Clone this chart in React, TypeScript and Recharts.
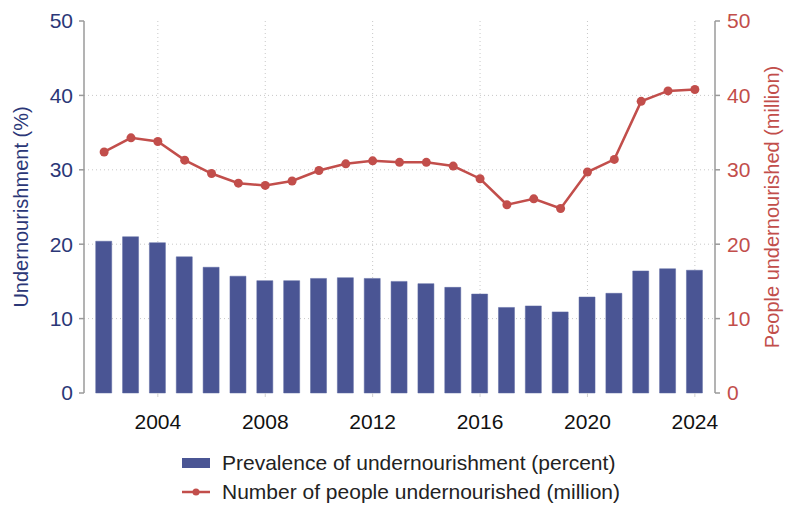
import { ComposedChart, Bar, Line, XAxis, YAxis, CartesianGrid } from 'recharts';

const years = [
  2002, 2003, 2004, 2005, 2006, 2007, 2008, 2009, 2010, 2011, 2012, 2013,
  2014, 2015, 2016, 2017, 2018, 2019, 2020, 2021, 2022, 2023, 2024,
];
const prevalence = [
  20.4, 21.0, 20.2, 18.3, 16.9, 15.7, 15.1, 15.1, 15.4, 15.5, 15.4, 15.0,
  14.7, 14.2, 13.3, 11.5, 11.7, 10.9, 12.9, 13.4, 16.4, 16.7, 16.5,
];
const undernourished = [
  32.4, 34.3, 33.8, 31.3, 29.5, 28.2, 27.9, 28.5, 29.9, 30.8, 31.2, 31.0,
  31.0, 30.5, 28.8, 25.3, 26.1, 24.8, 29.7, 31.4, 39.2, 40.6, 40.8,
];
const yearTicks = [2004, 2008, 2012, 2016, 2020, 2024];
const valueTicks = [0, 10, 20, 30, 40, 50];

const BLUE = '#4a5594';
const NAVY = '#2b3777';
const RED = '#c24e4b';
const FONT = 'Liberation Sans, Arial, sans-serif';

const data = years.map((year, i) => ({
  year,
  prevalence: prevalence[i],
  people: undernourished[i],
}));

export default function App() {
  return (
    <div style={{ position: 'absolute', left: 0, top: 0, width: 785, height: 514, background: '#fff', fontFamily: FONT }}>
      <ComposedChart
        width={785}
        height={514}
        data={data}
        margin={{ top: 21, right: 0, bottom: 81, left: 0 }}
      >
        <CartesianGrid
          stroke="#c8c8c8"
          strokeDasharray="1 3"
          horizontalValues={[10, 20, 30, 40]}
          verticalValues={yearTicks}
          yAxisId="left"
        />
        <XAxis
          dataKey="year"
          type="number"
          domain={[2001.25, 2024.75]}
          ticks={yearTicks}
          axisLine={false}
          tickLine={{ stroke: '#d0d0d0' }}
          tickSize={4}
          tickMargin={17}
          height={40}
          tick={{ fill: '#111', fontSize: 21, fontFamily: FONT }}
        />
        <YAxis
          yAxisId="left"
          domain={[0, 50]}
          ticks={valueTicks}
          width={84}
          axisLine={{ stroke: '#9a9a9a', strokeWidth: 1.5 }}
          tickLine={{ stroke: '#9a9a9a', strokeWidth: 1.5 }}
          tickSize={5}
          tickMargin={6}
          tick={{ fill: NAVY, fontSize: 21, fontFamily: FONT }}
          label={{
            value: 'Undernourishment (%)',
            angle: -90,
            position: 'insideLeft',
            offset: 21,
            style: { textAnchor: 'middle', fill: NAVY, fontSize: 20, fontFamily: FONT },
          }}
        />
        <YAxis
          yAxisId="right"
          orientation="right"
          domain={[0, 50]}
          ticks={valueTicks}
          width={70}
          axisLine={{ stroke: '#9a9a9a', strokeWidth: 1.5 }}
          tickLine={{ stroke: '#9a9a9a', strokeWidth: 1.5 }}
          tickSize={5}
          tickMargin={7}
          tick={{ fill: RED, fontSize: 21, fontFamily: FONT }}
          label={{
            value: 'People undernourished (million)',
            angle: -90,
            position: 'insideRight',
            offset: 13,
            style: { textAnchor: 'middle', fill: RED, fontSize: 20, fontFamily: FONT },
          }}
        />
        <Bar
          yAxisId="left"
          dataKey="prevalence"
          fill={BLUE}
          stroke="#5d68a3"
          strokeWidth={0.5}
          barSize={16}
          isAnimationActive={false}
        />
        <Line
          yAxisId="right"
          dataKey="people"
          stroke={RED}
          strokeWidth={2.5}
          dot={{ r: 4.5, fill: RED, stroke: RED, strokeWidth: 0 }}
          activeDot={false}
          isAnimationActive={false}
        />
      </ComposedChart>
      <div style={{ position: 'absolute', left: 182, top: 448, fontSize: 21, color: '#222', lineHeight: '29px' }}>
        <div style={{ display: 'flex', alignItems: 'center' }}>
          <span style={{ display: 'inline-block', width: 28, height: 10, background: BLUE, marginRight: 12 }} />
          Prevalence of undernourishment (percent)
        </div>
        <div style={{ display: 'flex', alignItems: 'center' }}>
          <svg width={28} height={12} style={{ marginRight: 12 }}>
            <line x1={0} y1={6} x2={28} y2={6} stroke={RED} strokeWidth={2.5} />
            <circle cx={14} cy={6} r={3.5} fill={RED} />
          </svg>
          Number of people undernourished (million)
        </div>
      </div>
    </div>
  );
}
